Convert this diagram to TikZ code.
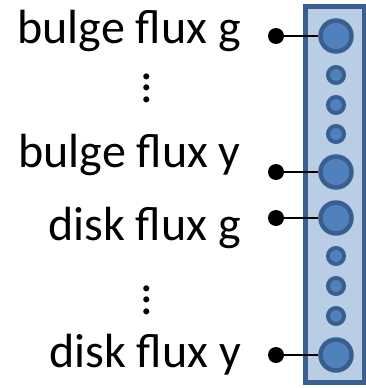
\documentclass[tikz,border=0pt]{standalone}
\usepackage{fontspec}
\setmainfont{Carlito}
\definecolor{panelblue}{HTML}{B9CDE5}
\definecolor{edgeblue}{HTML}{3A5F8E}
\definecolor{unitblue}{HTML}{4F81BD}
% vertical ellipsis built from three full stops of the text font
\newcommand\colvdots{\vbox{\baselineskip=11.5pt\lineskiplimit=-100pt\hbox{.}\hbox{.}\hbox{.}}}
\begin{document}
\begin{tikzpicture}[x=1pt,y=-1pt,
  panel/.style={draw=edgeblue, fill=panelblue, line width=5pt},
  bigunit/.style={circle, draw=edgeblue, fill=unitblue, line width=4.5pt, minimum size=31pt, inner sep=0pt},
  smallunit/.style={circle, draw=edgeblue, fill=unitblue, line width=4pt, minimum size=16pt, inner sep=0pt},
  pin/.style={circle, fill=black, minimum size=16pt, inner sep=0pt},
  wire/.style={line width=2.2pt},
  lbl/.style={anchor=base east, inner sep=0pt, font=\fontsize{48}{54}\selectfont},
  ell/.style={anchor=center, inner sep=0pt, font=\fontsize{50}{56}\selectfont}]
\useasboundingbox (0,0) rectangle (366,388);

% column of units
\draw[panel] (305,6.5) rectangle (364,382);
\node[bigunit] (u1) at (336,36) {};
\node[smallunit] (s1) at (336,75) {};
\node[smallunit] (s2) at (336,105) {};
\node[smallunit] (s3) at (336,134) {};
\node[bigunit] (u2) at (336,172) {};
\node[bigunit] (u3) at (336,218) {};
\node[smallunit] (s4) at (336,256) {};
\node[smallunit] (s5) at (336,286) {};
\node[smallunit] (s6) at (336,316) {};
\node[bigunit] (u4) at (336,355) {};

% input pins and their wires
\node[pin] (p1) at (276,36) {};
\node[pin] (p2) at (276,172) {};
\node[pin] (p3) at (276,218) {};
\node[pin] (p4) at (276,355) {};
\draw[wire] (p1) -- (u1);
\draw[wire] (p2) -- (u2);
\draw[wire] (p3) -- (u3);
\draw[wire] (p4) -- (u4);

% labels
\node[lbl] (t1) at (241,43) {bulge flux g};
\node[ell] (d1) at (147,88) {\colvdots};
\node[lbl] (t2) at (241,167) {bulge flux y};
\node[lbl] (t3) at (241,240) {disk flux g};
\node[ell] (d2) at (147,300) {\colvdots};
\node[lbl] (t4) at (241,367) {disk flux y};
\end{tikzpicture}
\end{document}
